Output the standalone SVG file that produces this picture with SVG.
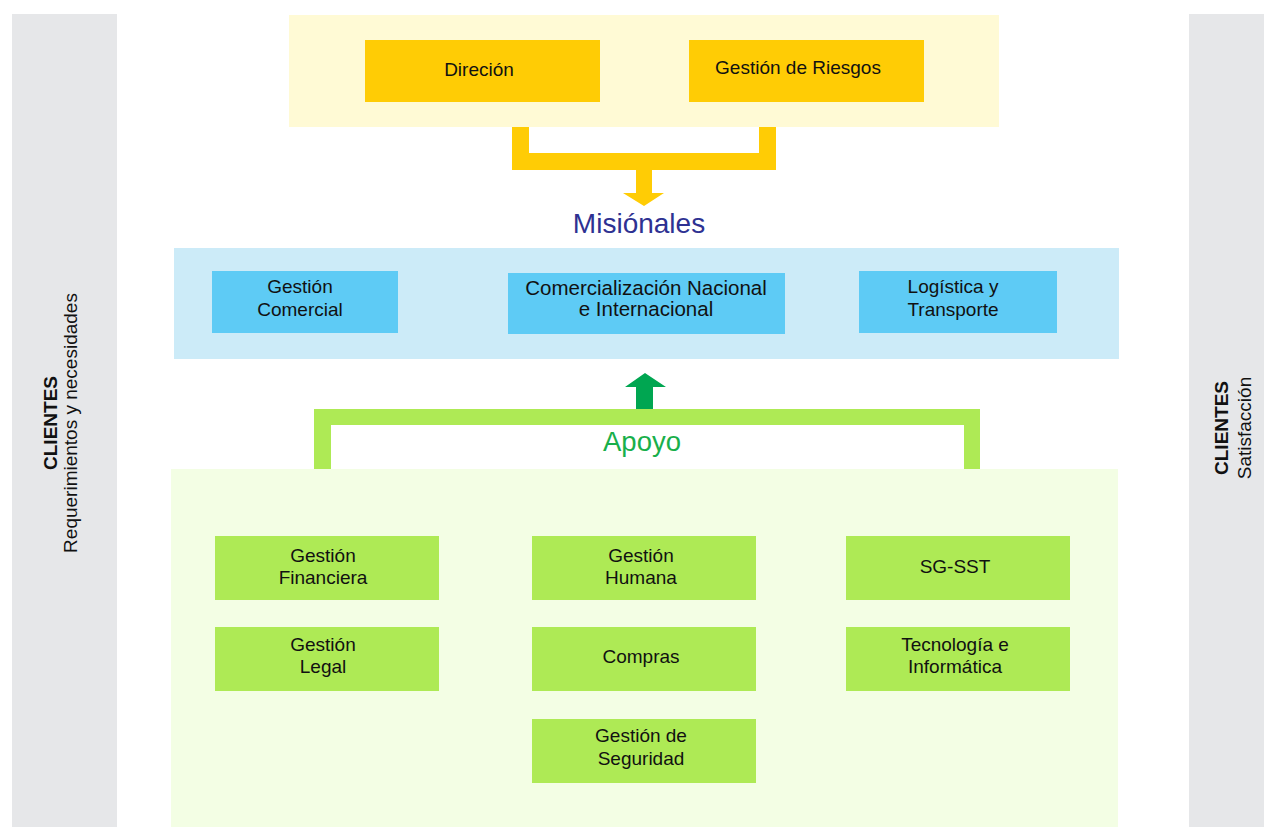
<svg xmlns="http://www.w3.org/2000/svg" width="1264" height="827" viewBox="0 0 1264 827">
<style>
text{font-family:"Liberation Sans",Arial,sans-serif;fill:#111;}
.t{font-size:19px;text-anchor:middle;}
.t2{font-size:20.5px;text-anchor:middle;}
.side{font-size:19px;text-anchor:middle;}
.b{font-weight:bold;}
.yb{fill:#FFCC05;}
.bb{fill:#5ECBF5;}
.gb{fill:#AEEA55;}
</style>
<rect width="1264" height="827" fill="#ffffff"/>
<g id="clientes-entrada">
<rect x="12" y="14" width="105" height="813" fill="#E6E7E9"/>
<text class="side b" transform="translate(57,423) rotate(-90)">CLIENTES</text>
<text class="side" transform="translate(77,423) rotate(-90)">Requerimientos y necesidades</text>
</g>
<g id="clientes-salida">
<rect x="1189" y="14" width="75" height="813" fill="#E6E7E9"/>
<text class="side b" transform="translate(1228,428) rotate(-90)">CLIENTES</text>
<text class="side" transform="translate(1251,428) rotate(-90)">Satisfacción</text>
</g>
<g id="panel-estrategicos"><rect x="289" y="15" width="710" height="112" fill="#FFFAD5"/></g>
<g id="panel-misionales"><rect x="174" y="248" width="945" height="111" fill="#CCEBF8"/></g>
<g id="panel-apoyo"><rect x="171" y="469" width="947" height="358" fill="#F3FEE4"/></g>
<g id="connectors">
<path d="M512,127 H529 V153 H759 V127 H776 V170 H512 Z" fill="#FFCC05"/>
<polygon points="636,170 652,170 652,193 664,193 644,206 623,193 636,193" fill="#FFCC05"/>
<polygon points="645,373 666,387 653,387 653,409 636,409 636,387 625,387" fill="#00A651"/>
<path d="M314,469 V409 H980 V469 H964 V425 H331 V469 Z" fill="#AEEA55"/>
</g>
<g id="titulo-misionales"><text x="639" y="233" font-size="28" text-anchor="middle" style="fill:#2E3192">Misiónales</text></g>
<g id="titulo-apoyo"><text x="642" y="451" font-size="27.5" text-anchor="middle" style="fill:#19AF4B">Apoyo</text></g>
<g id="direcion"><rect class="yb" x="365" y="40" width="235" height="62"/><text class="t" x="479" y="76">Direción</text></g>
<g id="gestion-riesgos"><rect class="yb" x="689" y="40" width="235" height="62"/><text class="t" x="798" y="74">Gestión de Riesgos</text></g>
<g id="gestion-comercial"><rect class="bb" x="212" y="271" width="186" height="62"/><text class="t" x="300" y="293">Gestión</text><text class="t" x="300" y="316">Comercial</text></g>
<g id="comercializacion"><rect class="bb" x="508" y="273" width="277" height="61"/><text class="t2" x="646" y="295">Comercialización Nacional</text><text class="t2" x="646" y="316">e Internacional</text></g>
<g id="logistica"><rect class="bb" x="859" y="271" width="198" height="62"/><text class="t" x="953" y="293">Logística y</text><text class="t" x="953" y="316">Transporte</text></g>
<g id="gestion-financiera"><rect class="gb" x="215" y="536" width="224" height="64"/><text class="t" x="323" y="562">Gestión</text><text class="t" x="323" y="584">Financiera</text></g>
<g id="gestion-humana"><rect class="gb" x="532" y="536" width="224" height="64"/><text class="t" x="641" y="562">Gestión</text><text class="t" x="641" y="584">Humana</text></g>
<g id="sg-sst"><rect class="gb" x="846" y="536" width="224" height="64"/><text class="t" x="955" y="573">SG-SST</text></g>
<g id="gestion-legal"><rect class="gb" x="215" y="627" width="224" height="64"/><text class="t" x="323" y="651">Gestión</text><text class="t" x="323" y="673">Legal</text></g>
<g id="compras"><rect class="gb" x="532" y="627" width="224" height="64"/><text class="t" x="641" y="663">Compras</text></g>
<g id="tecnologia"><rect class="gb" x="846" y="627" width="224" height="64"/><text class="t" x="955" y="651">Tecnología e</text><text class="t" x="955" y="673">Informática</text></g>
<g id="gestion-seguridad"><rect class="gb" x="532" y="719" width="224" height="64"/><text class="t" x="641" y="742">Gestión de</text><text class="t" x="641" y="765">Seguridad</text></g>
</svg>
